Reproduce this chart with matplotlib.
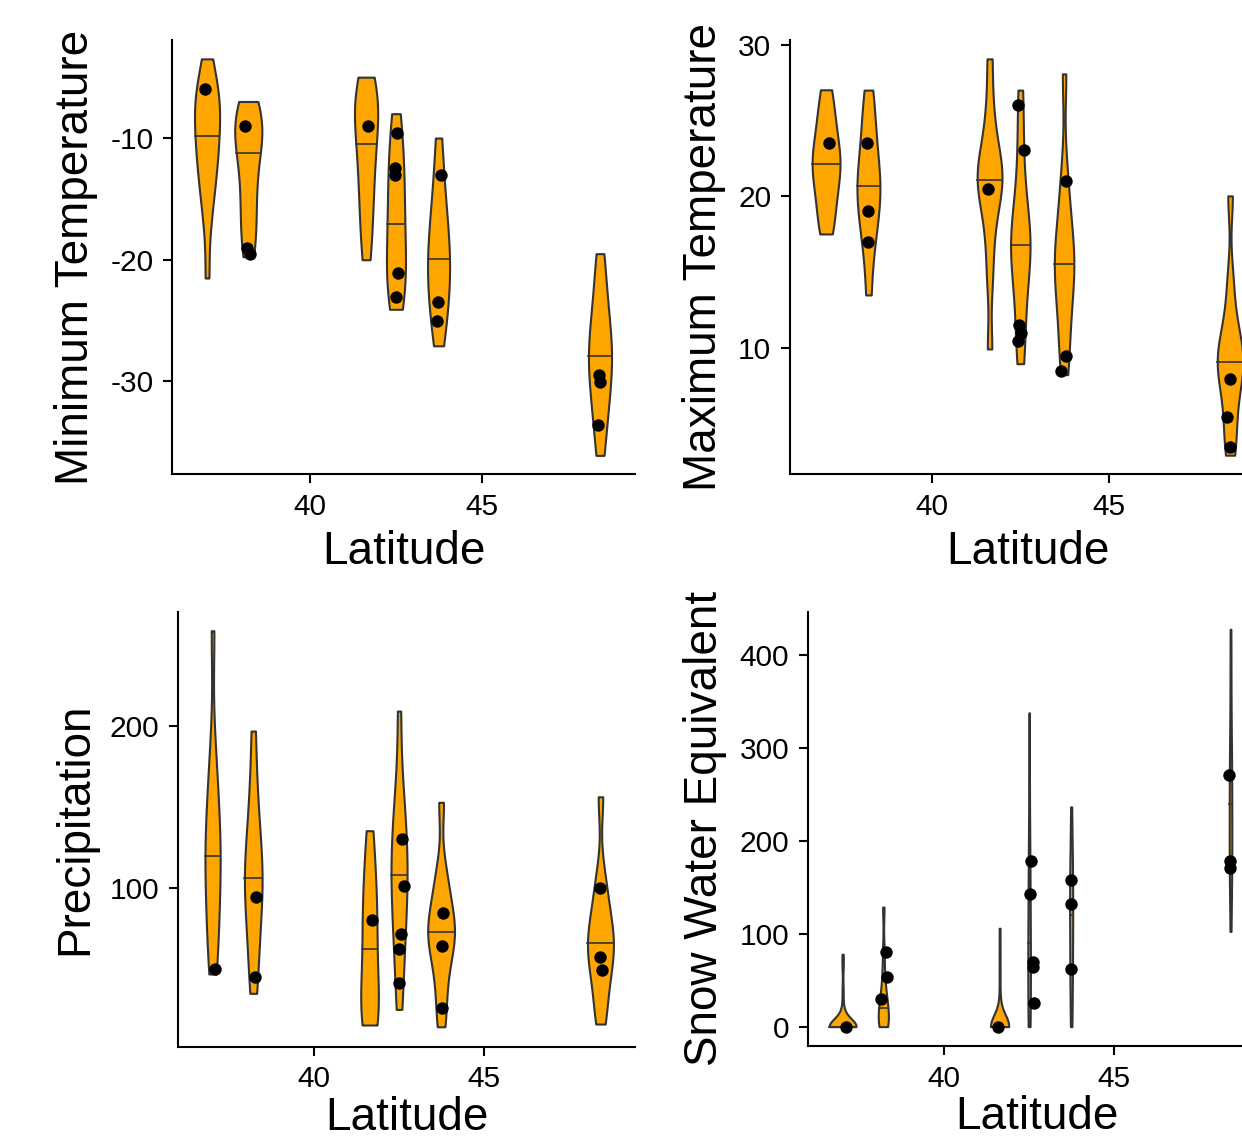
import matplotlib.pyplot as plt
import numpy as np

plt.rcParams['font.family'] = ['Liberation Sans', 'DejaVu Sans']
plt.rcParams['axes.unicode_minus'] = False

# site latitudes (one violin per site)
site_lat = [37.0, 38.2, 41.63, 42.5, 43.74, 48.44]

# violin samples, one list per site
tmin_sites = [
    [-3.5, -4.8, -5.8, -6.5, -7.1, -7.6, -8.1, -8.8, -9.84, -10.5, -11.2, -12.0, -12.9, -13.9, -15.2, -17.0, -21.5],
    [-7.0, -7.8, -8.5, -9.0, -9.5, -10.0, -11.2, -12.5, -14.0, -15.5, -17.0, -18.5, -19.75],
    [-5.0, -5.8, -6.8, -7.5, -8.0, -8.6, -10.46, -11.5, -12.8, -14.5, -16.0, -18.0, -20.0],
    [-8.0, -10.0, -11.5, -13.0, -14.4, -15.8, -17.07, -18.6, -19.9, -21.0, -22.0, -23.0, -24.07],
    [-10.0, -13.0, -15.0, -16.5, -17.8, -18.9, -19.9, -20.8, -21.8, -22.8, -24.0, -25.3, -27.07],
    [-19.5, -21.8, -23.5, -25.0, -26.2, -27.1, -27.9, -28.8, -29.8, -30.9, -32.2, -33.8, -36.07],
]
tmax_sites = [
    [17.52, 18.3, 19.3, 20.3, 21.1, 21.7, 22.12, 22.6, 23.2, 24.0, 24.9, 26.0, 27.02],
    [13.5, 16.3, 17.6, 18.6, 19.5, 20.1, 20.7, 21.3, 22.1, 23.1, 24.3, 25.6, 27.0],
    [9.94, 14.5, 17.0, 18.8, 19.9, 20.6, 21.06, 21.5, 22.1, 22.9, 24.0, 26.0, 29.06],
    [8.97, 10.8, 12.6, 14.2, 15.4, 16.2, 16.79, 17.4, 18.2, 19.4, 21.2, 24.0, 27.0],
    [8.25, 9.8, 11.5, 12.9, 14.0, 14.9, 15.53, 16.2, 17.0, 18.1, 19.6, 21.6, 28.07],
    [2.94, 4.2, 5.6, 7.0, 7.9, 8.6, 9.06, 9.5, 10.1, 10.9, 12.2, 14.5, 20.03],
]
prcp_sites = [
    [47.2, 60, 75, 88, 100, 110, 119.9, 128, 138, 150, 165, 185, 258.7],
    [35.3, 52, 67, 80, 91, 99, 106.5, 113, 122, 133, 147, 166, 196.9],
    [15.8, 18, 22, 28, 36, 48, 62.6, 72, 82, 92, 104, 118, 135.5],
    [25.4, 47, 64, 77, 89, 99, 108.2, 116, 125, 136, 148, 164, 209.2],
    [14.7, 30, 45, 56, 64, 69, 73.3, 77, 83, 91, 100, 112, 153],
    [16.4, 28, 40, 49, 56, 61.5, 66.1, 71, 77, 85, 95, 108, 156.4],
]
swe_sites = [
    [0] * 26 + [2, 8, 15, 22, 40, 65, 78],
    [0, 0, 0, 5, 10, 15, 20, 25, 30, 40, 55, 80, 128.8],
    [0] * 22 + [5, 15, 30, 55, 80, 106],
    [0, 10, 25, 40, 60, 70, 90, 120, 145, 165, 180, 250, 338],
    [0, 20, 45, 62, 80, 100, 120, 132, 145, 158, 175, 200, 236.7],
    [102.5, 150, 170, 178, 190, 210, 240, 265, 272, 285, 320, 380, 428],
]

# observed points
tmin_pt_lat = [36.94, 38.11, 38.15, 38.25, 41.70, 42.53, 42.47, 42.47, 42.56, 42.49,
               43.81, 43.73, 43.68, 48.41, 48.44, 48.38]
tmin_pt_val = [-6.0, -9.0, -19.07, -19.5, -9.0, -9.56, -12.5, -13.06, -21.06, -23.03,
               -13.0, -23.5, -25.0, -29.45, -30.05, -33.55]
tmax_pt_lat = [37.09, 38.16, 38.19, 38.19, 41.58, 42.44, 42.61, 42.46, 42.52, 42.44,
               43.80, 43.80, 43.66, 48.45, 48.36, 48.45]
tmax_pt_val = [23.52, 23.52, 19.03, 17.01, 20.47, 25.99, 23.04, 11.5, 11.0, 10.45,
               21.0, 9.5, 8.51, 7.99, 5.47, 3.5]
prcp_pt_lat = [37.07, 38.29, 38.24, 41.71, 42.59, 42.65, 42.55, 42.49, 42.51,
               43.80, 43.76, 43.76, 48.43, 48.44, 48.48]
prcp_pt_val = [50.3, 94.8, 45.5, 80.5, 130.2, 101.4, 71.7, 62.4, 41.5,
               84.6, 64.4, 26.4, 100.4, 57.5, 49.7]
swe_pt_lat = [37.11, 38.29, 38.31, 38.14, 41.59, 42.57, 42.53, 42.62, 42.62, 42.65,
              43.73, 43.75, 43.73, 48.40, 48.43, 48.43]
swe_pt_val = [0, 80.9, 53.3, 29.6, 0, 178, 143.2, 70.1, 63.7, 25.2,
              158.3, 132, 61.9, 271.5, 178.7, 170.8]


def bw_nrd0(x):
    hi = x.std(ddof=1)
    q75, q25 = np.percentile(x, [75, 25])
    lo = min(hi, (q75 - q25) / 1.34)
    if lo == 0:
        lo = hi
    return 0.9 * lo * len(x) ** -0.2


def kde(x, n=512):
    x = np.asarray(x, float)
    bw = bw_nrd0(x)
    grid = np.linspace(x.min(), x.max(), n)
    z = (grid[:, None] - x[None, :]) / bw
    d = np.exp(-0.5 * z ** 2).sum(1) / (len(x) * bw * np.sqrt(2 * np.pi))
    return grid, d


def violin_panel(ax, samples, pt_lat, pt_val, ylabel, ylim, yticks, xpad):
    dens = [kde(s) for s in samples]
    dmax = max(d.max() for g, d in dens)
    half = 0.79 / 2
    for lat, s, (g, d) in zip(site_lat, samples, dens):
        w = d / dmax * half
        ax.fill_betweenx(g, lat - w, lat + w, facecolor='#FFA500',
                         edgecolor='#333333', lw=1.5, zorder=2)
        med = np.median(s)
        wm = np.interp(med, g, w)
        ax.plot([lat - wm, lat + wm], [med, med], color='#333333', lw=1.2, zorder=2)
    ax.scatter(pt_lat, pt_val, s=80, color='black', linewidths=0, zorder=3)

    ax.set_xlim(35.98, 49.46)
    ax.set_ylim(*ylim)
    ax.set_xticks([40, 45])
    ax.set_yticks(yticks)
    ax.set_xlabel('Latitude', fontsize=33, labelpad=xpad)
    ax.set_ylabel(ylabel, fontsize=33, labelpad=9)
    for side in ['top', 'right']:
        ax.spines[side].set_visible(False)
    for side in ['left', 'bottom']:
        ax.spines[side].set_linewidth(1.5)
        ax.spines[side].set_color('black')
    ax.tick_params(labelsize=21.5, length=6.5, width=1.5, pad=7, colors='black')


fig = plt.figure(figsize=(12.42, 11.4), dpi=100)
ax1 = fig.add_axes([0.1385, 0.5842, 0.3728, 0.3807])
ax2 = fig.add_axes([0.6361, 0.5842, 0.3833, 0.3807])
ax3 = fig.add_axes([0.1433, 0.0818, 0.3680, 0.3816])
ax4 = fig.add_axes([0.6506, 0.0825, 0.3680, 0.3810])

violin_panel(ax1, tmin_sites, tmin_pt_lat, tmin_pt_val, 'Minimum Temperature',
             (-37.6, -1.95), [-30, -20, -10], 7)
violin_panel(ax2, tmax_sites, tmax_pt_lat, tmax_pt_val, 'Maximum Temperature',
             (1.7, 30.3), [10, 20, 30], 7)
violin_panel(ax3, prcp_sites, prcp_pt_lat, prcp_pt_val, 'Precipitation',
             (2.4, 270.4), [100, 200], 2)
violin_panel(ax4, swe_sites, swe_pt_lat, swe_pt_val, 'Snow Water Equivalent',
             (-20.8, 447), [0, 100, 200, 300, 400], 2)

fig.savefig('out.png', dpi=100)
